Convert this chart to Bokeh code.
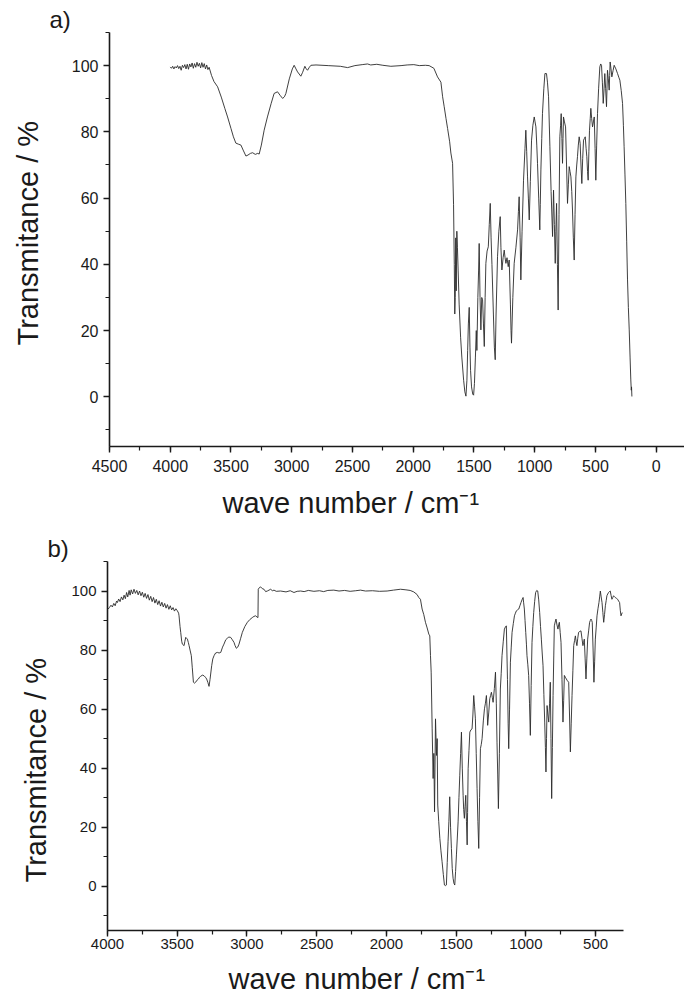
from bokeh.plotting import figure
from bokeh.models import Range1d, SingleIntervalTicker, Title
from bokeh.layouts import column
from bokeh.embed import file_html
from bokeh.resources import INLINE

# ---------------- data ----------------
# panel a) : wave number (cm-1) and transmittance (%)
wn_a = [4000, 3990, 3980, 3970, 3960, 3950, 3940, 3930, 3920, 3910, 3900, 3890, 3880, 3870,
        3860, 3850, 3840, 3830, 3820, 3810, 3800, 3790, 3780, 3770, 3760, 3750, 3740, 3730,
        3720, 3710, 3700, 3690, 3680, 3660, 3640, 3610, 3580, 3550, 3528, 3500, 3480, 3460,
        3440, 3418, 3400, 3377, 3360, 3340, 3322, 3300, 3280, 3268, 3250, 3227, 3200, 3170,
        3145, 3117, 3095, 3075, 3060, 3048, 3020, 2995, 2980, 2965, 2952, 2925, 2910, 2892,
        2880, 2870, 2855, 2842, 2800, 2700, 2600, 2540, 2480, 2420, 2376, 2350, 2300, 2250,
        2184, 2100, 2050, 1995, 1950, 1900, 1869, 1830, 1800, 1772, 1758, 1745, 1730, 1717,
        1700, 1690, 1676, 1668, 1662, 1658, 1654, 1650, 1646, 1641, 1636, 1630, 1622, 1610,
        1600, 1585, 1575, 1566, 1558, 1552, 1546, 1539, 1533, 1528, 1520, 1510, 1503, 1496,
        1488, 1481, 1476, 1468, 1462, 1457, 1450, 1443, 1436, 1429, 1422, 1415, 1408, 1402,
        1392, 1382, 1374, 1366, 1359, 1352, 1340, 1332, 1325, 1318, 1306, 1295, 1284, 1278,
        1270, 1260, 1251, 1244, 1237, 1228, 1218, 1210, 1200, 1195, 1191, 1180, 1169, 1155,
        1141, 1134, 1128, 1120, 1114, 1104, 1092, 1080, 1073, 1066, 1059, 1052, 1045, 1036,
        1026, 1015, 1004, 997, 990, 983, 977, 967, 958, 954, 949, 942, 936, 925, 916, 903,
        895, 886, 875, 865, 853, 845, 838, 831, 826, 820, 813, 807, 800, 793, 787, 782, 776,
        771, 767, 763, 755, 746, 738, 730, 723, 716, 709, 702, 695, 689, 682, 675, 668, 661,
        654, 648, 641, 634, 626, 619, 612, 605, 598, 591, 584, 577, 571, 565, 560, 554, 549,
        543, 538, 531, 524, 517, 510, 503, 497, 490, 483, 474, 464, 457, 450, 443, 436, 429,
        423, 416, 409, 405, 401, 394, 387, 383, 379, 372, 365, 355, 346, 332, 318, 308, 299,
        288, 277, 270, 264, 257, 250, 243, 236, 229, 222, 215, 209, 205, 203, 200]
tr_a = [99.6, 99.2, 99.8, 99.0, 99.7, 99.3, 100.0, 99.1, 99.8, 98.6, 100.1, 99.4, 100.3, 99.0,
        100.4, 98.9, 100.5, 99.6, 100.8, 99.2, 100.6, 99.5, 101.0, 99.8, 100.7, 99.3, 100.9, 99.5,
        100.6, 99.0, 100.2, 98.8, 99.5, 97.0, 95.2, 93.6, 90.5, 87.0, 84.5, 81.0, 78.5, 76.6,
        76.3, 76.0, 74.5, 72.7, 73.0, 73.5, 73.7, 73.2, 73.5, 73.3, 76.0, 80.5, 84.5, 88.5,
        91.6, 92.1, 91.0, 90.1, 90.6, 91.6, 96.0, 99.0, 100.1, 99.0, 98.1, 96.8, 98.0, 99.8,
        99.0, 98.6, 99.5, 100.1, 100.2, 100.0, 99.8, 99.4, 100.0, 100.3, 100.5, 100.2, 100.4, 100.1,
        99.8, 100.0, 100.2, 100.3, 100.0, 100.1, 100.0, 99.2, 96.6, 95.0, 90.6, 87.6, 84.0, 81.0,
        77.0, 73.6, 70.5, 58.0, 40.0, 25.0, 30.0, 48.0, 32.0, 50.0, 45.0, 38.0, 28.0, 18.0,
        12.0, 5.0, 1.5, 0.2, 5.0, 14.0, 22.0, 27.0, 15.0, 8.0, 3.0, 0.8, 0.5, 4.0,
        12.0, 20.0, 14.0, 30.0, 38.0, 46.3, 30.0, 20.2, 30.0, 29.3, 22.0, 15.2, 30.0, 40.3,
        44.0, 45.3, 52.0, 58.4, 48.0, 40.0, 25.0, 15.0, 11.2, 25.0, 42.3, 50.0, 54.4, 45.0,
        38.3, 42.0, 44.3, 42.0, 40.3, 42.0, 39.3, 41.3, 28.0, 20.0, 16.2, 30.0, 40.3, 45.0,
        50.4, 56.0, 60.4, 48.0, 35.3, 50.0, 65.4, 75.0, 80.5, 74.0, 66.4, 60.0, 53.4, 65.0,
        77.5, 82.0, 84.5, 83.0, 81.5, 76.0, 70.5, 60.0, 50.4, 58.0, 68.5, 78.0, 85.5, 93.0, 97.6, 97.6,
        95.0, 90.6, 75.5, 62.0, 48.4, 62.4, 52.0, 40.3, 50.0, 58.4, 40.0, 26.2, 55.0, 78.5, 82.0, 85.5, 78.0,
        70.5, 78.0, 84.5, 83.0, 81.5, 70.0, 58.4, 64.0, 69.5, 68.0, 66.4, 62.0, 56.4, 48.0, 41.3, 55.0, 66.4,
        70.0, 72.5, 76.0, 78.5, 76.5, 70.0, 64.4, 72.0, 77.5, 78.0, 78.5, 75.0, 72.5, 68.0, 65.4, 74.0, 80.5,
        84.0, 87.1, 84.0, 81.5, 83.0, 84.5, 75.0, 65.4, 76.0, 85.5, 93.0, 99.6, 100.5, 100.1, 95.0, 88.6, 93.0,
        97.6, 93.0, 87.6, 93.0, 98.6, 96.0, 92.6, 97.0, 101.1, 99.0, 96.6, 98.5, 100.1, 99.0, 97.6, 96.5, 95.6,
        92.5, 88.6, 82.0, 75.5, 67.0, 58.4, 47.0, 35.3, 27.0, 20.2, 12.0, 5.1, 2.0, 3.0, 0.1]

# panel b)
wn_b = [3995, 3985, 3975, 3965, 3955, 3945, 3935, 3929, 3920, 3910, 3900, 3890, 3881, 3872,
        3863, 3855, 3845, 3838, 3830, 3820, 3810, 3800, 3790, 3780, 3770, 3760, 3750, 3740,
        3730, 3720, 3710, 3700, 3690, 3680, 3670, 3660, 3650, 3640, 3630, 3620, 3610, 3600,
        3590, 3580, 3570, 3560, 3550, 3540, 3530, 3520, 3510, 3499, 3490, 3487, 3480, 3475,
        3468, 3463, 3451, 3445, 3439, 3433, 3427, 3420, 3415, 3408, 3399, 3392, 3384, 3376,
        3368, 3358, 3348, 3340, 3332, 3320, 3308, 3298, 3289, 3280, 3272, 3265, 3253, 3245,
        3236, 3225, 3212, 3200, 3188, 3175, 3165, 3152, 3141, 3130, 3117, 3105, 3093, 3085,
        3076, 3066, 3057, 3045, 3033, 3015, 2997, 2980, 2962, 2950, 2938, 2928, 2921, 2919,
        2910, 2902, 2890, 2878, 2866, 2854, 2842, 2830, 2818, 2806, 2790, 2759, 2720, 2690,
        2663, 2640, 2615, 2590, 2560, 2520, 2480, 2450, 2420, 2377, 2340, 2300, 2260, 2220,
        2186, 2150, 2100, 2050, 1995, 1950, 1899, 1860, 1830, 1804, 1780, 1768, 1756, 1744,
        1732, 1720, 1708, 1696, 1689, 1684, 1679, 1672, 1665, 1660, 1655, 1648, 1641, 1636,
        1632, 1625, 1617, 1609, 1601, 1592, 1584, 1577, 1570, 1564, 1558, 1552, 1546, 1540,
        1534, 1528, 1522, 1516, 1510, 1504, 1498, 1492, 1486, 1480, 1474, 1468, 1462, 1456,
        1450, 1446, 1441, 1436, 1431, 1426, 1421, 1418, 1414, 1408, 1402, 1394, 1386, 1380,
        1374, 1368, 1362, 1356, 1350, 1344, 1338, 1332, 1326, 1320, 1314, 1305, 1297, 1290,
        1283, 1278, 1274, 1266, 1259, 1253, 1247, 1241, 1235, 1226, 1218, 1212, 1207, 1202,
        1197, 1190, 1183, 1177, 1171, 1162, 1154, 1147, 1140, 1132, 1127, 1123, 1117, 1111,
        1105, 1099, 1090, 1082, 1075, 1068, 1060, 1051, 1043, 1035, 1028, 1020, 1016, 1011,
        1006, 1001, 996, 992, 986, 980, 974, 968, 962, 956, 950, 944, 937, 930, 922, 915,
        908, 901, 895, 889, 883, 877, 871, 865, 860, 856, 852, 848, 842, 836, 830, 825,
        820, 815, 810, 805, 800, 796, 790, 784, 777, 770, 765, 760, 754, 748, 741, 734,
        729, 724, 717, 710, 702, 693, 687, 681, 675, 669, 663, 657, 651, 645, 640, 634,
        628, 622, 614, 605, 598, 591, 586, 581, 575, 569, 563, 557, 550, 543, 538, 533,
        528, 524, 518, 512, 507, 502, 496, 490, 483, 476, 471, 466, 460, 454, 448, 442,
        436, 430, 424, 419, 413, 407, 401, 395, 389, 383, 377, 371, 365, 359, 350, 342,
        335, 328, 323, 318, 313, 309]
tr_b = [93.9, 94.5, 95.2, 94.6, 95.8, 95.0, 96.6, 96.1, 97.3, 96.4, 98.0, 97.0, 98.6, 97.4,
        99.5, 98.0, 100.2, 98.6, 100.4, 99.0, 100.6, 99.2, 100.2, 98.7, 100.0, 98.4, 99.6, 97.9,
        99.2, 97.5, 98.8, 96.9, 98.2, 96.4, 97.8, 95.9, 97.2, 95.4, 96.7, 94.9, 96.2, 94.6,
        95.8, 94.2, 95.4, 93.8, 95.0, 93.6, 94.4, 93.2, 94.0, 93.3, 92.5, 91.6, 88.0, 86.0,
        83.0, 82.0, 81.5, 83.0, 84.3, 84.0, 83.7, 82.5, 81.5, 80.0, 78.1, 74.0, 69.1, 68.8,
        69.1, 69.8, 70.2, 70.8, 71.1, 71.5, 71.3, 70.8, 70.2, 69.0, 67.7, 70.0, 74.7, 77.0,
        78.1, 79.0, 79.2, 79.0, 79.2, 81.0, 82.0, 83.5, 84.0, 84.4, 84.3, 83.5, 82.6, 81.5,
        80.6, 81.0, 82.0, 84.0, 86.0, 88.0, 89.4, 90.3, 91.0, 91.4, 91.6, 91.2, 91.0, 100.6,
        101.2, 101.4, 100.8, 100.6, 99.8, 100.0, 100.3, 100.6, 100.1, 100.3, 99.9, 100.0, 99.7, 100.1,
        99.5, 99.9, 100.0, 99.8, 100.2, 99.9, 100.1, 99.8, 100.2, 100.3, 100.0, 100.2, 99.9, 100.1,
        100.3, 100.0, 100.1, 99.9, 100.0, 100.3, 100.6, 100.4, 100.2, 99.7, 98.8, 97.8, 97.2, 93.9,
        92.0, 89.4, 87.5, 85.4, 84.8, 78.1, 72.5, 53.3, 36.5, 45.0, 25.2, 56.7, 44.3, 50.0,
        27.5, 22.0, 16.2, 12.0, 8.3, 4.0, 0.4, 0.2, 0.4, 8.0, 15.1, 22.0, 30.3, 20.0,
        12.8, 6.0, 2.7, 1.0, 0.4, 5.0, 10.6, 16.0, 21.8, 30.0, 37.6, 45.0, 52.2, 40.0,
        30.8, 26.0, 23.0, 27.0, 30.8, 22.0, 14.0, 25.0, 39.8, 46.0, 52.2, 53.0, 53.3, 58.0,
        64.6, 61.0, 56.7, 45.0, 33.1, 22.0, 12.8, 30.0, 46.6, 48.0, 50.0, 56.0, 60.1, 62.0,
        64.6, 60.0, 54.5, 59.0, 63.5, 64.6, 65.7, 64.0, 62.3, 67.0, 72.5, 62.0, 48.8, 38.0,
        26.3, 45.0, 66.8, 72.0, 78.1, 83.0, 87.1, 87.8, 88.2, 70.0, 55.0, 46.6, 60.0, 75.9,
        81.0, 86.0, 89.0, 91.6, 92.5, 93.3, 93.6, 93.9, 95.0, 96.1, 97.0, 97.8, 96.0, 93.9,
        90.0, 86.0, 82.0, 78.1, 75.0, 71.4, 62.0, 51.1, 68.0, 82.6, 88.0, 92.7, 96.5, 99.5, 100.2, 100.0,
        97.0, 92.7, 88.0, 83.7, 79.0, 74.7, 65.0, 55.6, 47.0, 38.7, 50.0, 61.2, 58.0, 55.6, 62.0, 69.1,
        50.0, 29.7, 47.0, 64.6, 78.0, 88.2, 89.5, 90.5, 88.5, 87.1, 88.5, 89.4, 86.0, 82.6, 70.0, 55.6,
        63.0, 71.4, 70.8, 70.2, 69.6, 69.1, 58.0, 45.5, 55.0, 64.6, 73.0, 81.5, 83.2, 84.8, 83.0, 81.5,
        84.0, 86.0, 86.3, 86.5, 84.0, 81.5, 82.6, 83.7, 77.0, 70.2, 77.0, 83.7, 86.5, 89.4, 90.0, 90.5,
        90.0, 89.4, 80.0, 69.1, 76.0, 83.7, 87.5, 91.6, 94.0, 96.1, 98.0, 100.0, 98.0, 96.1, 92.7, 89.4,
        92.0, 95.0, 96.8, 98.4, 99.0, 99.5, 99.8, 100.0, 98.5, 97.2, 97.8, 98.4, 98.1, 97.8, 97.5, 97.2,
        96.6, 96.1, 93.5, 91.6, 92.2, 92.7]

y_ticks_interval = 20
x_ticks_interval = 500
panel_names = ["a)", "b)"]
x_title = "wave number / cm\u207b\u00b9"
y_title = "Transmitance / %"

FONT = "Liberation Sans"
INK = "#1a1a1a"


def make_panel(wn, tr, x0, x1, width, height, mb_left, mb_right, mb_top, mb_bottom,
               tick_px, x_label_standoff, name, name_off,
               ytitle_off, ytitle_gap, xtitle_off, xtitle_standoff):
    p = figure(width=width, height=height,
               x_range=Range1d(x0, x1), y_range=Range1d(-15, 110),
               output_backend="svg", toolbar_location=None,
               min_border_left=mb_left, min_border_right=mb_right,
               min_border_top=mb_top, min_border_bottom=mb_bottom)
    p.frame_align = False
    p.line(wn, tr, line_color="#2a2a2a", line_width=0.9)
    p.xgrid.visible = False
    p.ygrid.visible = False
    p.outline_line_color = None

    p.xaxis.ticker = SingleIntervalTicker(interval=x_ticks_interval, num_minor_ticks=2)
    p.yaxis.ticker = SingleIntervalTicker(interval=y_ticks_interval, num_minor_ticks=2)
    for ax in (p.xaxis[0], p.yaxis[0]):
        ax.axis_line_width = 1.6
        ax.axis_line_color = INK
        ax.major_tick_line_color = INK
        ax.minor_tick_line_color = INK
        ax.major_tick_line_width = 1.4
        ax.minor_tick_line_width = 1.2
        ax.major_tick_in = 0
        ax.minor_tick_in = 0
        ax.major_tick_out = 6
        ax.minor_tick_out = 4
        ax.major_label_text_font = FONT
        ax.major_label_text_font_size = f"{tick_px}px"
        ax.major_label_text_color = INK
        ax.major_label_standoff = 5
    p.xaxis[0].major_label_standoff = x_label_standoff
    # blank, tiny axis label used only as a gap between tick labels and the y title
    p.yaxis[0].axis_label = " "
    p.yaxis[0].axis_label_text_font_size = "1px"
    p.yaxis[0].axis_label_standoff = ytitle_gap

    # panel tag
    p.add_layout(Title(text=name, align="left", offset=name_off, standoff=0,
                       text_font=FONT, text_font_size="24px", text_font_style="normal",
                       text_color=INK), "above")
    # y title
    p.add_layout(Title(text=y_title, align="left", offset=ytitle_off, standoff=0,
                       text_font=FONT, text_font_size="29px", text_font_style="normal",
                       text_color=INK), "left")
    # x title
    p.add_layout(Title(text=x_title, align="left", offset=xtitle_off, standoff=xtitle_standoff,
                       text_font=FONT, text_font_size="29px", text_font_style="normal",
                       text_color=INK), "below")
    return p


# page has no body margin: figure pixels are page pixels
pa = make_panel(wn_a, tr_a, 4500, -233, 684, 532, 109, 0, 32, 86, 16, 7,
                panel_names[0], -60, 101, 21, 113, 21)
pb = make_panel(wn_b, tr_b, 4000, 300, 684, 473, 107, 61, 28, 75, 15, 2,
                panel_names[1], -60, 48, 13, 121, 19)

layout = column(pa, pb, spacing=0)
open("out.html", "w").write(file_html(layout, INLINE))
